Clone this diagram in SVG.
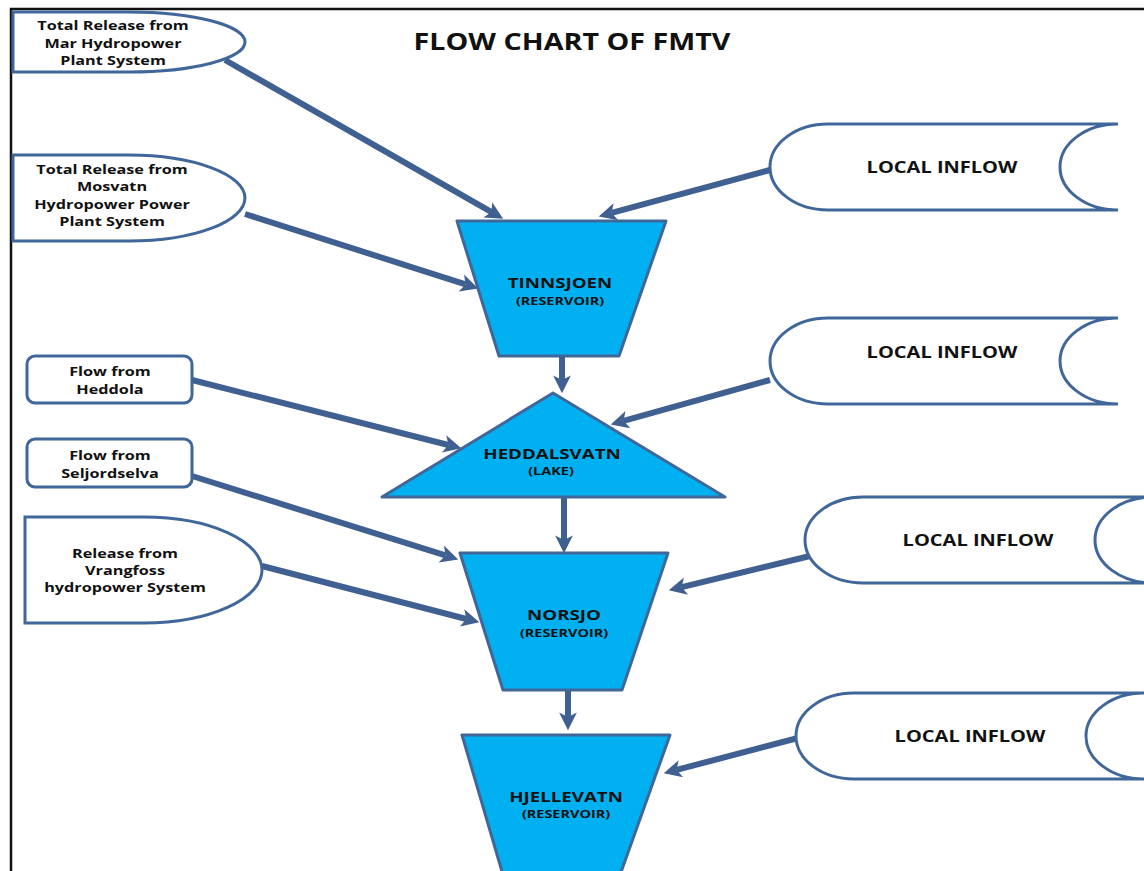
<svg xmlns="http://www.w3.org/2000/svg" width="1144" height="871" viewBox="0 0 1144 871">
<style>
.src{fill:#fff;stroke:#41679a;stroke-width:3}
.res{fill:#00b0f0;stroke:#41679a;stroke-width:3;stroke-linejoin:round}
.t{font-family:"Open Sans","Liberation Sans",sans-serif;font-weight:bold;fill:#111;text-anchor:middle}
.s{font-size:13.2px}
.li{font-size:15.4px}
.m{font-size:14.4px}
.sm{font-size:11.3px}
.cn{stroke:#3f6090;stroke-width:6;fill:none;marker-end:url(#ah)}
</style>
<defs>
<marker id="ah" markerUnits="userSpaceOnUse" markerWidth="20" markerHeight="20" viewBox="0 -9 17 18" refX="4" refY="0" orient="auto">
<path d="M0,-8 L16,0 L0,8 L4,0 Z" fill="#3f6090"/>
</marker>
</defs>
<rect x="0" y="0" width="1144" height="871" fill="#fff"/>
<path d="M11,871 V9 H1144" fill="none" stroke="#111" stroke-width="2.5"/>
<text class="t" font-size="22.4px" transform="translate(572,50) scale(1.28,1)">FLOW CHART OF FMTV</text>

<g id="connectors">
<line class="cn" x1="225" y1="60" x2="491.6" y2="212.1"/>
<line class="cn" x1="245" y1="214" x2="465.6" y2="284.4"/>
<line class="cn" x1="770" y1="170" x2="611.6" y2="212.9"/>
<line class="cn" x1="192" y1="380" x2="448.4" y2="445"/>
<line class="cn" x1="770" y1="380" x2="623.6" y2="420.8"/>
<line class="cn" x1="192" y1="476" x2="445.5" y2="555.4"/>
<line class="cn" x1="262" y1="566" x2="466.4" y2="619"/>
<line class="cn" x1="810" y1="556" x2="681.7" y2="587.2"/>
<line class="cn" x1="798" y1="738" x2="676.6" y2="769.9"/>
<line class="cn" x1="562" y1="357" x2="562" y2="380"/>
<line class="cn" x1="564" y1="497" x2="564" y2="540"/>
<line class="cn" x1="568" y1="690" x2="568" y2="717"/>
</g>

<g id="mar">
<path class="src" d="M13,12 H129 A116,30 0 0 1 129,72 H13 Z"/>
<text class="t s" transform="translate(113,30) scale(1.23,1)">Total Release from</text>
<text class="t s" transform="translate(113,48) scale(1.23,1)">Mar Hydropower</text>
<text class="t s" transform="translate(113,65) scale(1.23,1)">Plant System</text>
</g>

<g id="mosvatn">
<path class="src" d="M13,155 H129 A116,43 0 0 1 129,241 H13 Z"/>
<text class="t s" transform="translate(112,174) scale(1.23,1)">Total Release from</text>
<text class="t s" transform="translate(112,191) scale(1.23,1)">Mosvatn</text>
<text class="t s" transform="translate(112,209) scale(1.23,1)">Hydropower Power</text>
<text class="t s" transform="translate(112,226) scale(1.23,1)">Plant System</text>
</g>

<g id="heddola">
<rect class="src" x="27" y="356" width="165" height="47" rx="8"/>
<text class="t s" transform="translate(110,376) scale(1.23,1)">Flow from</text>
<text class="t s" transform="translate(110,394) scale(1.23,1)">Heddola</text>
</g>

<g id="seljordselva">
<rect class="src" x="27" y="439" width="165" height="48" rx="8"/>
<text class="t s" transform="translate(110,460) scale(1.23,1)">Flow from</text>
<text class="t s" transform="translate(110,478) scale(1.23,1)">Seljordselva</text>
</g>

<g id="vrangfoss">
<path class="src" d="M25,517 H144 A118,53 0 0 1 144,623 H25 Z"/>
<text class="t s" transform="translate(125,558) scale(1.23,1)">Release from</text>
<text class="t s" transform="translate(125,575) scale(1.23,1)">Vrangfoss</text>
<text class="t s" transform="translate(125,592) scale(1.23,1)">hydropower System</text>
</g>

<g id="local1">
<path class="src" d="M1118,124 H828 A58,43 0 0 0 828,210 H1118 A58,43 0 0 1 1118,124"/>
<text class="t li" transform="translate(942,173) scale(1.3,1)">LOCAL INFLOW</text>
</g>

<g id="local2">
<path class="src" d="M1118,318 H828 A58,43 0 0 0 828,404 H1118 A58,43 0 0 1 1118,318"/>
<text class="t li" transform="translate(942,358) scale(1.3,1)">LOCAL INFLOW</text>
</g>

<g id="local3">
<path class="src" d="M1153,497 H863 A58,43 0 0 0 863,583 H1153 A58,43 0 0 1 1153,497"/>
<text class="t li" transform="translate(978,546) scale(1.3,1)">LOCAL INFLOW</text>
</g>

<g id="local4">
<path class="src" d="M1144,693 H854 A58,43 0 0 0 854,779 H1144 A58,43 0 0 1 1144,693"/>
<text class="t li" transform="translate(970,742) scale(1.3,1)">LOCAL INFLOW</text>
</g>

<g id="tinnsjoen">
<path class="res" d="M457,221 H666 L619,356 H499 Z"/>
<text class="t m" transform="translate(560,288) scale(1.3,1)">TINNSJOEN</text>
<text class="t sm" transform="translate(560,305) scale(1.28,1)">(RESERVOIR)</text>
</g>

<g id="heddalsvatn">
<path class="res" d="M553,393 L725,497 H382 Z"/>
<text class="t m" transform="translate(552,459) scale(1.3,1)">HEDDALSVATN</text>
<text class="t sm" transform="translate(551,475) scale(1.28,1)">(LAKE)</text>
</g>

<g id="norsjo">
<path class="res" d="M460,553 H668 L622,690 H503 Z"/>
<text class="t m" transform="translate(564,620) scale(1.3,1)">NORSJO</text>
<text class="t sm" transform="translate(564,637) scale(1.28,1)">(RESERVOIR)</text>
</g>

<g id="hjellevatn">
<path class="res" d="M462,735 H670 L620,875 H503 Z"/>
<text class="t m" transform="translate(566,802) scale(1.3,1)">HJELLEVATN</text>
<text class="t sm" transform="translate(566,818) scale(1.28,1)">(RESERVOIR)</text>
</g>
</svg>
